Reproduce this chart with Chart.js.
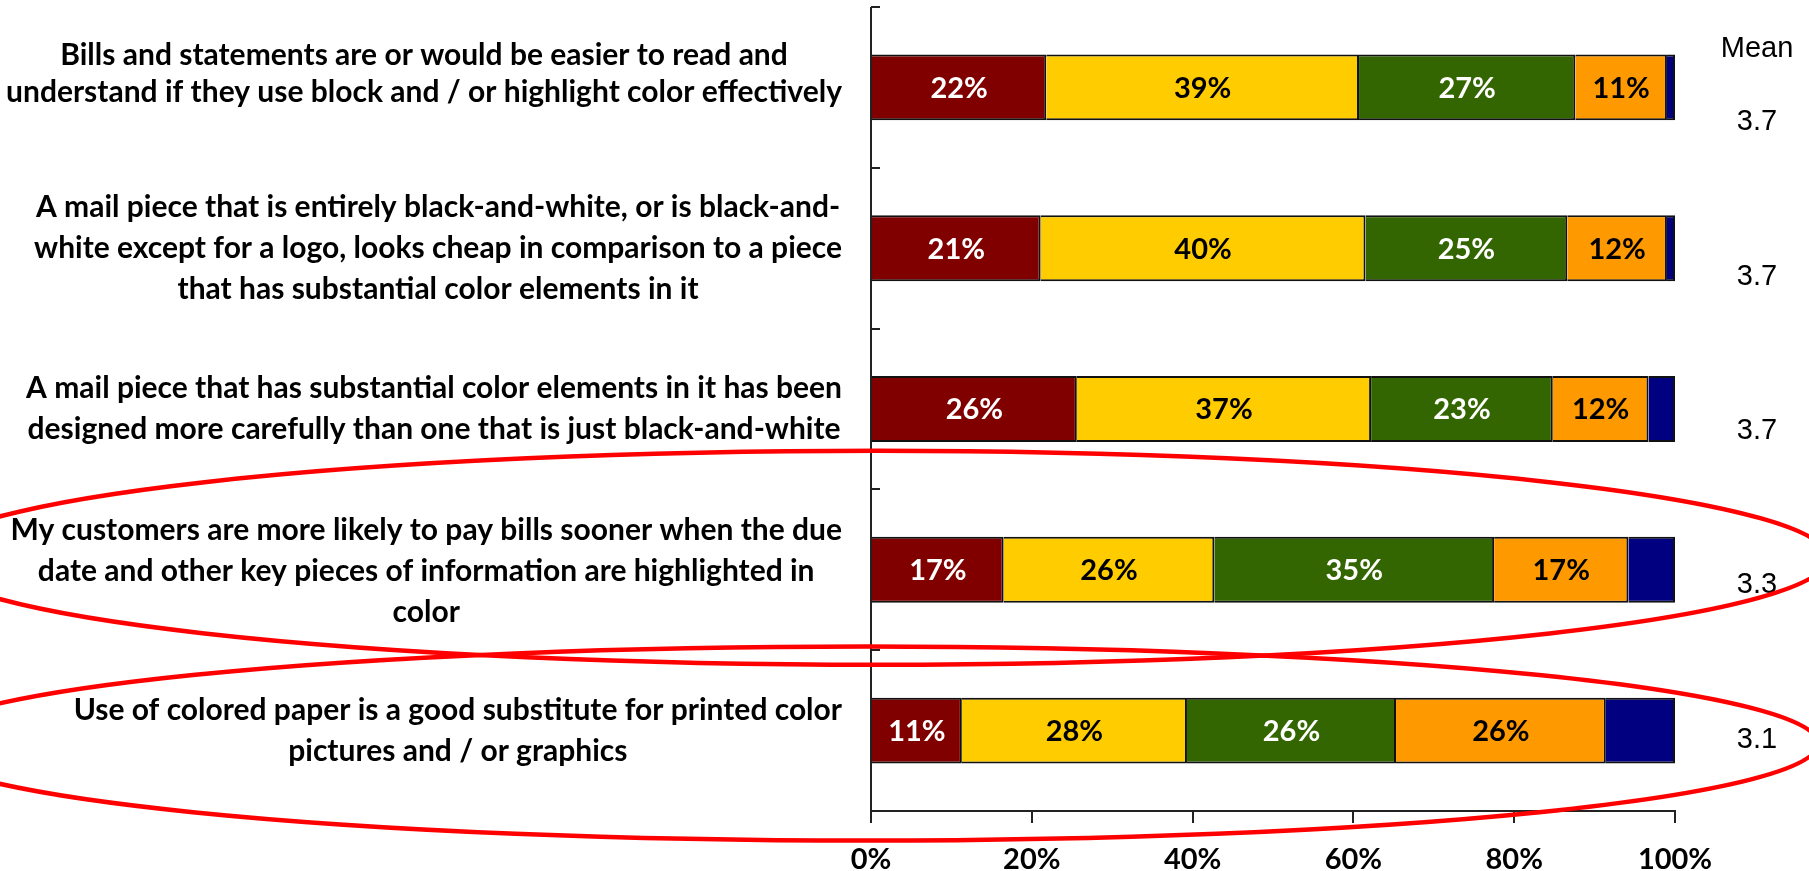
<!DOCTYPE html>
<html>
<head>
<meta charset="utf-8">
<script src="https://cdn.jsdelivr.net/npm/chart.js@4.4.1/dist/chart.umd.min.js"></script>
<style>
  html, body { margin: 0; padding: 0; background: #fff; }
  canvas { display: block; }
</style>
</head>
<body>
<canvas id="chart" width="1809" height="871"></canvas>
<script>
// survey statements, one per bar (already wrapped into lines)
const statements = [
  ["Bills and statements are or would be easier to read and", "understand if they use block and / or highlight color effectively"],
  ["A mail piece that is entirely black-and-white, or is black-and-", "white except for a logo, looks cheap in comparison to a piece", "that has substantial color elements in it"],
  ["A mail piece that has substantial color elements in it has been", "designed more carefully than one that is just black-and-white"],
  ["My customers are more likely to pay bills sooner when the due", "date and other key pieces of information are highlighted in", "color"],
  ["Use of colored paper is a good substitute for printed color", "pictures and / or graphics"],
];

// share of answers per scale point, 5 = strongly agree ... 1 = strongly disagree
const score5 = [21.8, 21.1, 25.6, 16.5, 11.3];
const score4 = [38.9, 40.4, 36.6, 26.2, 28.0];
const score3 = [26.9, 25.1, 22.6, 34.8, 26.0];
const score2 = [11.4, 12.4, 11.9, 16.7, 26.1];
const score1 = [1.0, 1.0, 3.3, 5.8, 8.6];

const means = [3.7, 3.7, 3.7, 3.3, 3.1];
const xTicks = [0, 20, 40, 60, 80, 100];

// rows circled in red
const circledRows = [3, 4];

const FONT_BOLD = "Lato, 'Open Sans', sans-serif";

const series = [
  { label: "5", data: score5, color: "#800000", text: "#ffffff" },
  { label: "4", data: score4, color: "#ffcc00", text: "#000000" },
  { label: "3", data: score3, color: "#336600", text: "#ffffff" },
  { label: "2", data: score2, color: "#ff9900", text: "#000000" },
  { label: "1", data: score1, color: "#000080", text: "#ffffff" },
];

// y axis with ticks on the inside, between rows
const yAxisLine = {
  id: "yAxisLine",
  afterDatasetsDraw(chart) {
    const { ctx, chartArea } = chart;
    const n = statements.length;
    const step = (chartArea.bottom - chartArea.top) / n;
    ctx.save();
    ctx.strokeStyle = "#222";
    ctx.lineWidth = 2;
    ctx.beginPath();
    ctx.moveTo(chartArea.left, chartArea.top);
    ctx.lineTo(chartArea.left, chartArea.bottom);
    for (let i = 0; i <= n; i++) {
      const y = Math.round(chartArea.top + i * step);
      ctx.moveTo(chartArea.left, y);
      ctx.lineTo(chartArea.left + 9, y);
    }
    ctx.stroke();
    ctx.restore();
  },
};

// percentage inside each segment
const segmentLabels = {
  id: "segmentLabels",
  afterDatasetsDraw(chart) {
    const { ctx } = chart;
    ctx.save();
    ctx.font = `bold 29px ${FONT_BOLD}`;
    ctx.textAlign = "center";
    ctx.textBaseline = "middle";
    chart.data.datasets.forEach((ds, di) => {
      chart.getDatasetMeta(di).data.forEach((bar, i) => {
        const v = ds.data[i];
        if (v < 10) return;
        ctx.fillStyle = series[di].text;
        ctx.fillText(Math.round(v) + "%", (bar.x + bar.base) / 2, bar.y + 1);
      });
    });
    ctx.restore();
  },
};

// wrapped statement text left of the axis, mean column on the right, red rings
const sideText = {
  id: "sideText",
  afterDraw(chart) {
    const { ctx, chartArea } = chart;
    const y = chart.scales.y;
    const lineH = 41;
    const nudge = [-14, 0, 0, 2, 0];

    ctx.save();
    ctx.fillStyle = "#000";
    ctx.font = `bold 30px ${FONT_BOLD}`;
    ctx.textAlign = "center";
    ctx.textBaseline = "middle";
    const right = chartArea.left - 29;
    statements.forEach((lines, i) => {
      const widest = Math.max(...lines.map((l) => ctx.measureText(l).width));
      const cx = right - widest / 2;
      const cy = y.getPixelForValue(i) + nudge[i];
      const lh = lines.length === 2 && i === 0 ? 37 : lineH;
      lines.forEach((line, k) => {
        ctx.fillText(line, cx, cy + (k - (lines.length - 1) / 2) * lh);
      });
    });

    ctx.font = "29px 'Liberation Sans', Arial, sans-serif";
    const mx = chartArea.right + 82;
    ctx.fillText("Mean", mx, chartArea.top + 42);
    const first = y.getPixelForValue(0) + 35;
    const last = y.getPixelForValue(means.length - 1) + 9;
    means.forEach((m, i) => {
      const my = first + (i * (last - first)) / (means.length - 1);
      ctx.fillText(m.toFixed(1), mx, my);
    });

    ctx.strokeStyle = "#ff0000";
    ctx.lineWidth = 4.5;
    const rings = [
      { dx: 6, dy: -12, rx: 951, ry: 107 },
      { dx: -5, dy: 13, rx: 952, ry: 97 },
    ];
    circledRows.forEach((row, k) => {
      const r = rings[k];
      ctx.beginPath();
      ctx.ellipse(chartArea.left + r.dx, y.getPixelForValue(row) + r.dy, r.rx, r.ry, 0, 0, Math.PI * 2);
      ctx.stroke();
    });
    ctx.restore();
  },
};

new Chart(document.getElementById("chart"), {
  type: "bar",
  data: {
    labels: statements.map((s) => s.join(" ")),
    datasets: series.map((s) => ({
      label: s.label,
      data: s.data,
      backgroundColor: s.color,
      borderColor: "#111",
      borderWidth: 2,
      categoryPercentage: 1,
      barPercentage: 0.41,
    })),
  },
  options: {
    indexAxis: "y",
    responsive: false,
    animation: false,
    layout: { padding: { left: 871, right: 134, top: 7, bottom: 0 } },
    plugins: { legend: { display: false }, tooltip: { enabled: false } },
    scales: {
      x: {
        stacked: true,
        min: 0,
        max: 100,
        afterBuildTicks: (axis) => { axis.ticks = xTicks.map((v) => ({ value: v })); },
        afterFit: (axis) => { axis.height = 60; },
        border: { display: true, color: "#222", width: 2 },
        grid: { drawOnChartArea: false, drawTicks: true, tickLength: 12, color: "#222", lineWidth: 2 },
        ticks: {
          padding: 19,
          color: "#000",
          font: { family: FONT_BOLD, size: 29, weight: "bold" },
          callback: (v) => v + "%",
        },
      },
      y: {
        stacked: true,
        display: false,
      },
    },
  },
  plugins: [yAxisLine, segmentLabels, sideText],
});
</script>
</body>
</html>
